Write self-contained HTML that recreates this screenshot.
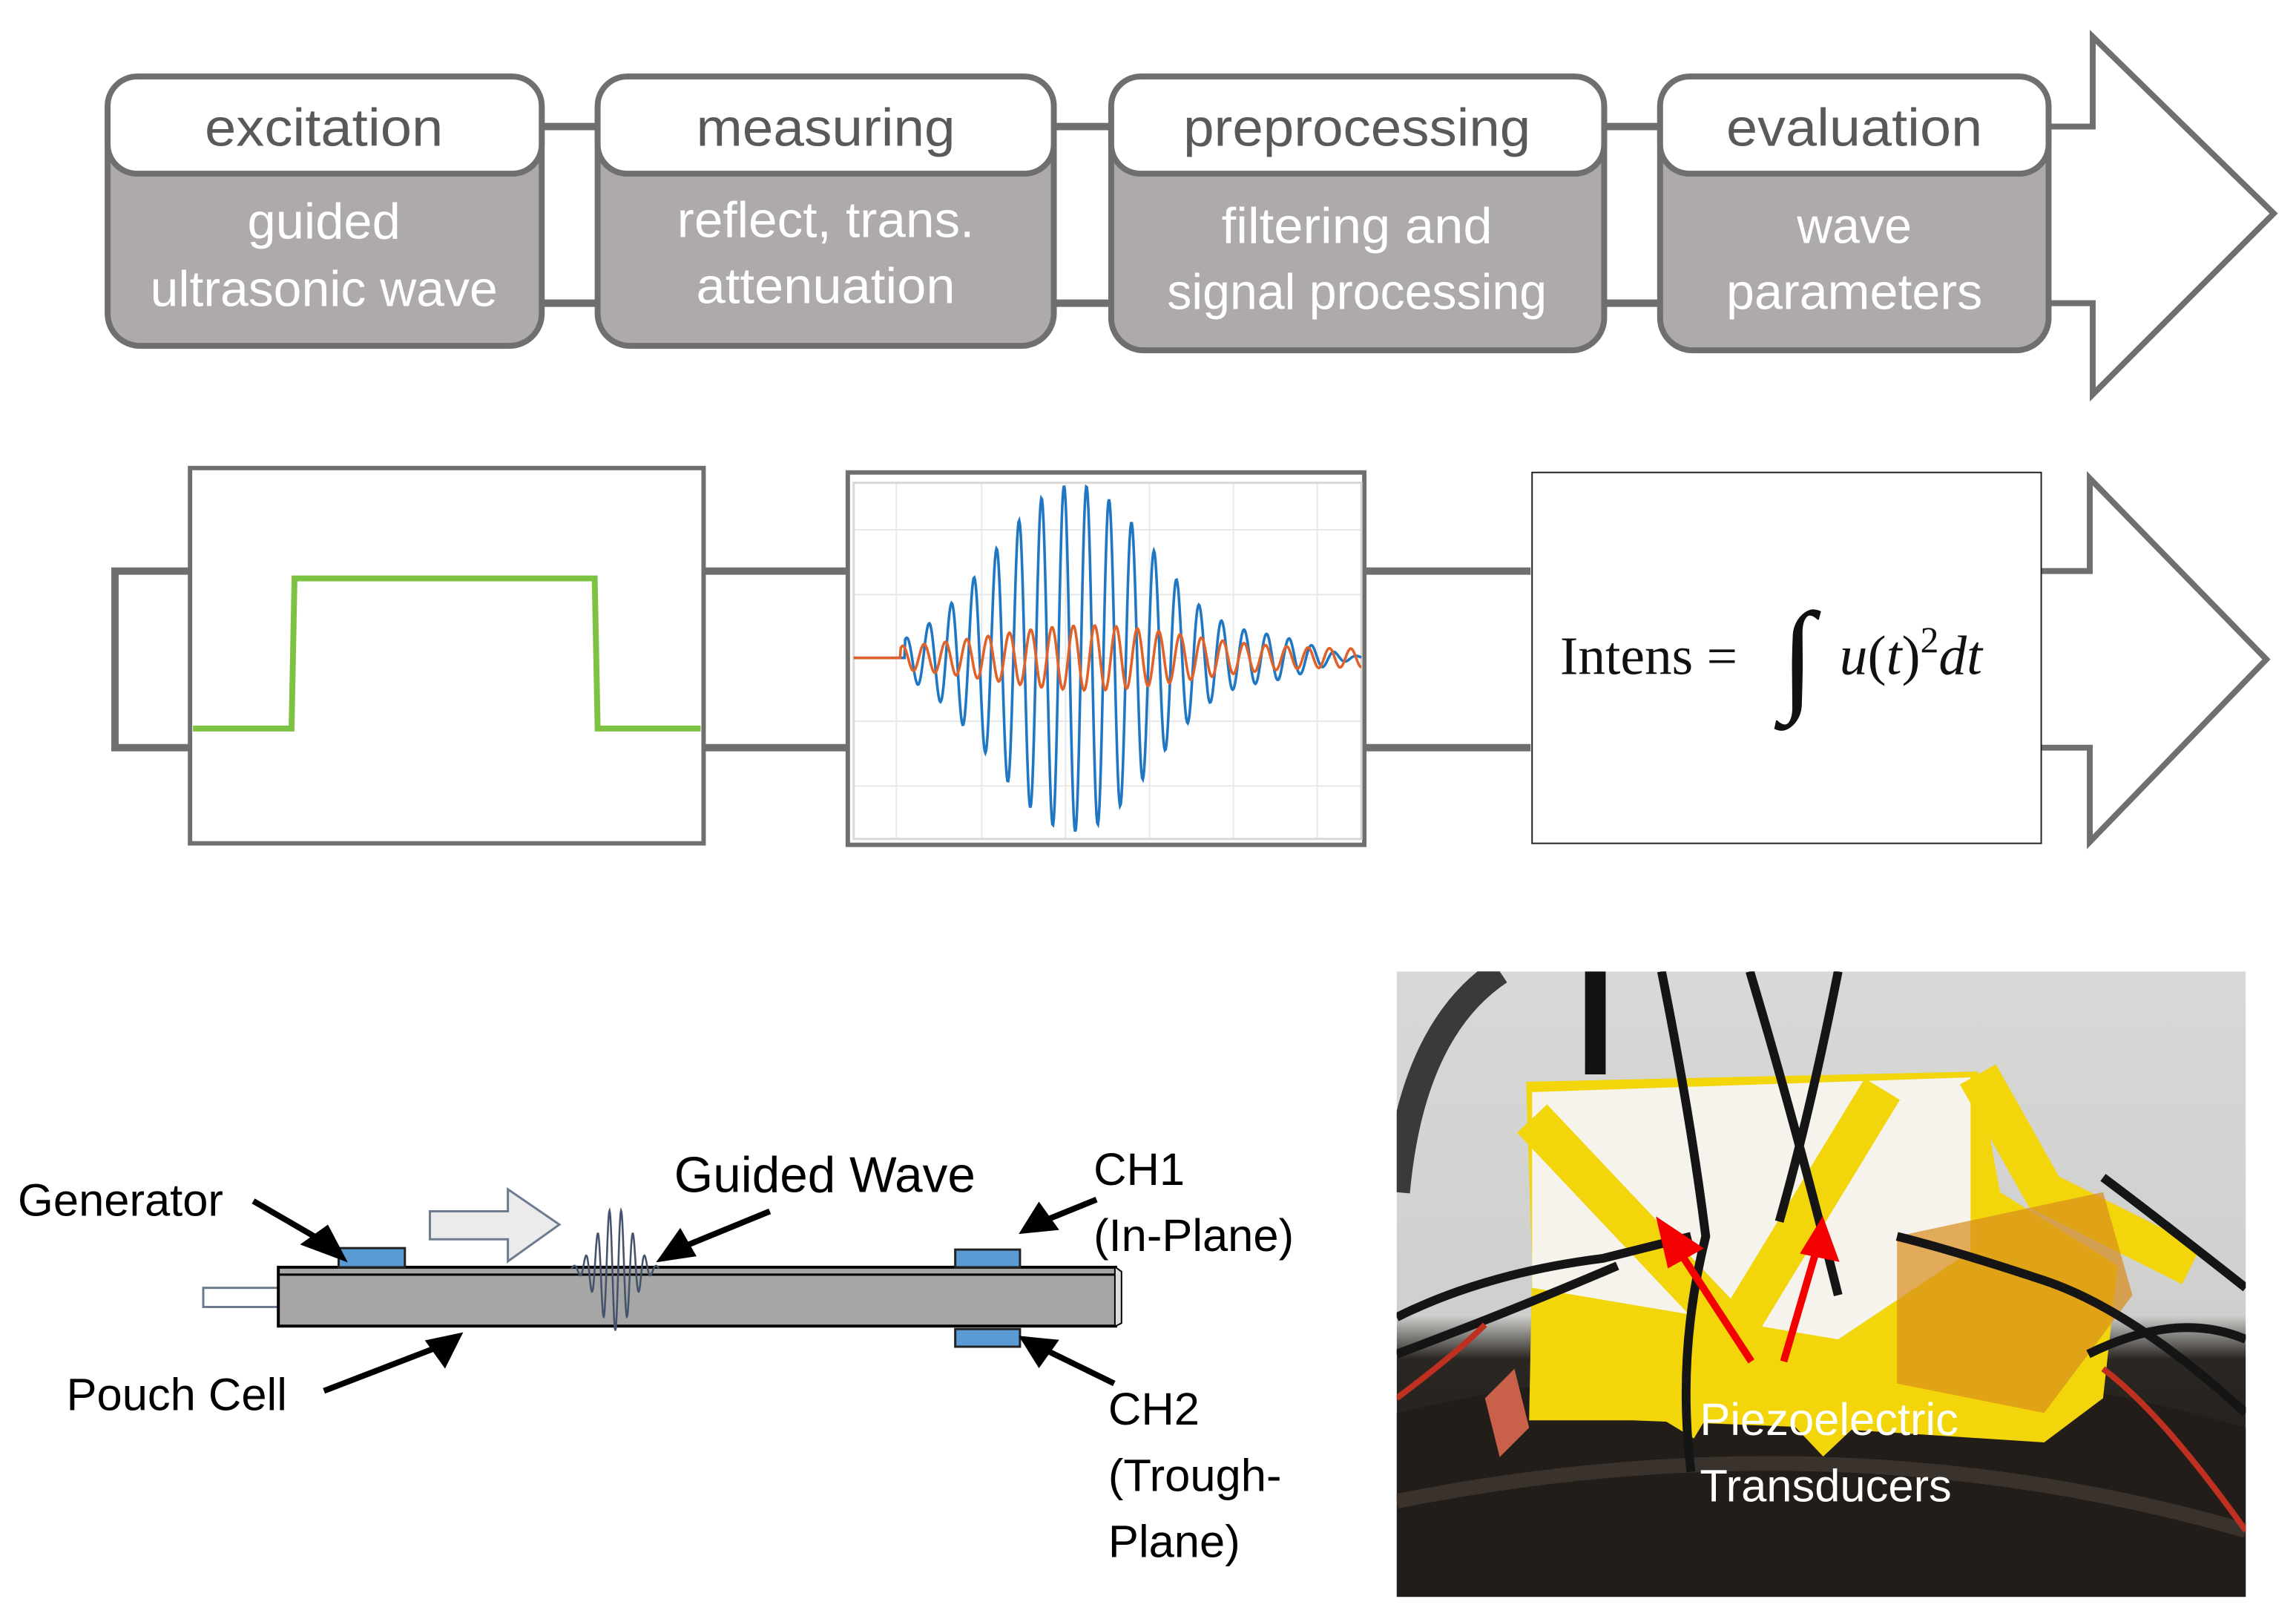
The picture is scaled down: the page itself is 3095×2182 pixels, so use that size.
<!DOCTYPE html>
<html><head><meta charset="utf-8"><style>
html,body{margin:0;padding:0;background:#fff;width:3095px;height:2182px;overflow:hidden}
svg{display:block}
.s{font-family:"Liberation Sans",sans-serif}
.f{font-family:"Liberation Serif",serif}
</style></head><body>
<svg width="3095" height="2182" viewBox="0 0 1560 1100" xmlns="http://www.w3.org/2000/svg">
<defs>
<linearGradient id="bg" x1="0" y1="0" x2="0" y2="1">
<stop offset="0" stop-color="#d8d8d6"/><stop offset="0.55" stop-color="#cfcfcd"/><stop offset="0.62" stop-color="#2a2622"/><stop offset="1" stop-color="#1e1a17"/>
</linearGradient>
</defs>
<g stroke="#6f6f6f" stroke-width="5" fill="none">
<path d="M368 86H406M716 86H755M1090 86H1128M368 206H406M716 206H755M1090 206H1128"/>
</g>
<path d="M1392 86H1422V25L1545 145L1422 268V206H1392" fill="#fff" stroke="#6f6f6f" stroke-width="4"/>
<g stroke="#6f6f6f" stroke-width="4">
<rect x="73" y="52" width="295" height="183" rx="22" fill="#aeaaa9"/>
<rect x="73" y="52" width="295" height="66" rx="20" fill="#fff"/>
<rect x="406" y="52" width="310" height="183" rx="22" fill="#aeaaa9"/>
<rect x="406" y="52" width="310" height="66" rx="20" fill="#fff"/>
<rect x="755" y="52" width="335" height="186" rx="22" fill="#aeaaa9"/>
<rect x="755" y="52" width="335" height="66" rx="20" fill="#fff"/>
<rect x="1128" y="52" width="264" height="186" rx="22" fill="#aeaaa9"/>
<rect x="1128" y="52" width="264" height="66" rx="20" fill="#fff"/>
</g>
<g class="s" font-size="36" fill="#595959" text-anchor="middle">
<text x="220" y="99" textLength="162" lengthAdjust="spacingAndGlyphs">excitation</text>
<text x="561" y="99" textLength="176" lengthAdjust="spacingAndGlyphs">measuring</text>
<text x="922" y="99" textLength="236" lengthAdjust="spacingAndGlyphs">preprocessing</text>
<text x="1260" y="99" textLength="174" lengthAdjust="spacingAndGlyphs">evaluation</text>
</g>
<g class="s" font-size="34" fill="#fff" text-anchor="middle">
<text x="220" y="162" textLength="104" lengthAdjust="spacingAndGlyphs">guided</text>
<text x="220" y="208" textLength="236" lengthAdjust="spacingAndGlyphs">ultrasonic wave</text>
<text x="561" y="161" textLength="202" lengthAdjust="spacingAndGlyphs">reflect, trans.</text>
<text x="561" y="206" textLength="176" lengthAdjust="spacingAndGlyphs">attenuation</text>
<text x="922" y="165" textLength="184" lengthAdjust="spacingAndGlyphs">filtering and</text>
<text x="922" y="210" textLength="258" lengthAdjust="spacingAndGlyphs">signal processing</text>
<text x="1260" y="165" textLength="78" lengthAdjust="spacingAndGlyphs">wave</text>
<text x="1260" y="210" textLength="174" lengthAdjust="spacingAndGlyphs">parameters</text>
</g>
<g stroke="#6f6f6f" stroke-width="5" fill="none">
<path d="M130 388H78V508H130M478 388H576M478 508H576M927 388H1040M927 508H1040"/>
</g>
<path d="M1387 388H1420V325L1540 448L1420 572V508H1387" fill="#fff" stroke="#6f6f6f" stroke-width="4"/>
<rect x="129" y="318" width="349" height="255" fill="#fff" stroke="#6f6f6f" stroke-width="3"/>
<path d="M131 495H198L200 393H404L406 495H476" fill="none" stroke="#7dc242" stroke-width="4"/>
<rect x="576" y="321" width="351" height="253" fill="#fff" stroke="#6f6f6f" stroke-width="3"/>
<g stroke="#e8e8e8" stroke-width="1">
<path d="M609 328V570M667 328V570M724 328V570M781 328V570M838 328V570M895 328V570"/>
<path d="M580 360H925M580 404H925M580 447H925M580 490H925M580 534H925"/>
</g>
<rect x="580" y="328" width="345" height="242" fill="none" stroke="#d8d8d8" stroke-width="1.5"/>
<path id="blue" fill="none" stroke="#1f77c4" stroke-width="1.8"/>
<path id="orange" fill="none" stroke="#e0622a" stroke-width="1.8"/>
<rect x="1041" y="321" width="346" height="252" fill="#fff" stroke="#222" stroke-width="1"/>
<text class="f" x="1060" y="458" font-size="37" fill="#111">Intens =</text>
<text class="f" x="1210" y="474" font-size="84" fill="#111" font-style="italic">∫</text>
<text class="f" x="1250" y="458" font-size="38" fill="#111" font-style="italic">u<tspan font-style="normal">(</tspan>t<tspan font-style="normal">)</tspan><tspan font-style="normal" font-size="25" dy="-15">2</tspan><tspan dy="15">dt</tspan></text>
<rect x="138" y="875" width="51" height="13" fill="#fff" stroke="#6a7a8a" stroke-width="1.5"/>
<rect x="189" y="861" width="569" height="40" fill="#a6a6a6" stroke="#000" stroke-width="2"/>
<path d="M189 866H758" stroke="#000" stroke-width="1.5"/>
<path d="M758 861L762 864V899L758 901" fill="#ddd" stroke="#000" stroke-width="1"/>
<g fill="#5b9bd5" stroke="#222" stroke-width="1.5">
<rect x="230" y="848" width="45" height="13"/>
<rect x="649" y="849" width="44" height="12"/>
<rect x="649" y="903" width="44" height="12"/>
</g>
<path d="M292 823H345V808L380 832L345 857V842H292Z" fill="#ebebeb" stroke="#6c7b8e" stroke-width="1.5"/>
<path id="packet" fill="none" stroke="#44546a" stroke-width="1.3"/>
<g stroke="#000" stroke-width="4" fill="#000">
<path d="M172 816L222 845"/><path d="M232 854L208 845L222 835Z"/>
<path d="M523 823L462 848"/><path d="M450 855L462 838L470 852Z"/>
<path d="M745 815L708 830"/><path d="M696 836L706 820L716 834Z"/>
<path d="M220 945L298 915"/><path d="M311 908L302 926L292 912Z"/>
<path d="M757 940L708 916"/><path d="M696 910L716 912L706 926Z"/>
</g>
<g class="s" font-size="31" fill="#000">
<text x="12" y="826">Generator</text>
<text x="458" y="810" font-size="34">Guided Wave</text>
<text x="743" y="805">CH1</text>
<text x="743" y="850">(In-Plane)</text>
<text x="45" y="958">Pouch Cell</text>
<text x="753" y="968">CH2</text>
<text x="753" y="1013">(Trough-</text>
<text x="753" y="1058">Plane)</text>
</g>
<svg x="949" y="660" width="577" height="425" viewBox="0 0 577 425">
<rect width="577" height="425" fill="url(#bg)"/>
<path d="M0 300Q300 230 577 310V425H0Z" fill="#221d19"/>
<path d="M0 360Q300 300 577 380" stroke="#3a332d" stroke-width="10" fill="none"/>
<path d="M70 0Q10 40 0 150" stroke="#3a3a3a" stroke-width="18" fill="none"/>
<path d="M135 0V70" stroke="#111" stroke-width="14"/>
<polygon points="88,75 395,68 410,150 490,200 480,290 440,320 285,310 160,305 90,305 92,200" fill="#f2d50a"/>
<polygon points="92,82 390,72 390,190 300,250 92,215" fill="#f5f3ec"/>
<path d="M92 100L300 320M330 80L190 310M395 70L440 150L540 200" stroke="#f2d50a" stroke-width="28" fill="none"/>
<path d="M340 180L480 150L500 220L440 300L340 280Z" fill="#d88c1c" opacity="0.7"/>
<path d="M0 235Q60 205 140 195L200 180M0 260Q80 230 150 200M577 215Q520 170 480 140M577 300Q500 230 440 210Q380 190 340 180M577 250Q530 230 470 260M180 0Q200 100 210 180Q190 260 200 340M240 0Q270 100 300 220M300 0Q280 100 260 170" stroke="#151515" stroke-width="6" fill="none"/>
<path d="M577 380Q520 300 480 270M0 290Q40 260 60 240" stroke="#c03020" stroke-width="4" fill="none"/>
<path d="M60 290L80 270L90 310L70 330Z" fill="#c9604a"/>
<g stroke="#f40000" stroke-width="5" fill="#f40000">
<path d="M241 265L190 187"/><path d="M180 172L204 188L186 198Z"/>
<path d="M263 265L285 190"/><path d="M289 172L297 194L278 190Z"/>
</g>
<text class="s" x="206" y="315" font-size="31" fill="#fff">Piezoelectric</text>
<text class="s" x="206" y="360" font-size="31" fill="#fff">Transducers</text>
</svg>
<script>
(function(){
var b="",o="";
for(var x=580;x<=925;x+=0.5){
 var t=x-730;
 var env=118*Math.exp(-t*t/(2*55*55));
 if(x>820) env+=10*Math.exp(-Math.pow((x-870)/35,2));
 if(x<615) env*=0;
 var yb=447-env*Math.sin((x-612)*2*Math.PI/15.3);
 var eo=(x<612?0:1)*(16*Math.exp(-Math.pow((x-740)/90,2))+6);
 var yo=447-eo*Math.sin((x-612)*2*Math.PI/14.5+1);
 b+=(b?"L":"M")+x.toFixed(1)+" "+yb.toFixed(1);
 o+=(o?"L":"M")+x.toFixed(1)+" "+yo.toFixed(1);
}
document.getElementById("blue").setAttribute("d",b);
document.getElementById("orange").setAttribute("d",o);
var p="";
for(var x=388;x<=448;x+=0.3){
 var e=42*Math.exp(-Math.pow((x-418)/16,2));
 var y=862-e*Math.sin((x-388)*2*Math.PI/8);
 p+=(p?"L":"M")+x.toFixed(1)+" "+y.toFixed(1);
}
document.getElementById("packet").setAttribute("d",p);
})();
</script>
</svg>
</body></html>
